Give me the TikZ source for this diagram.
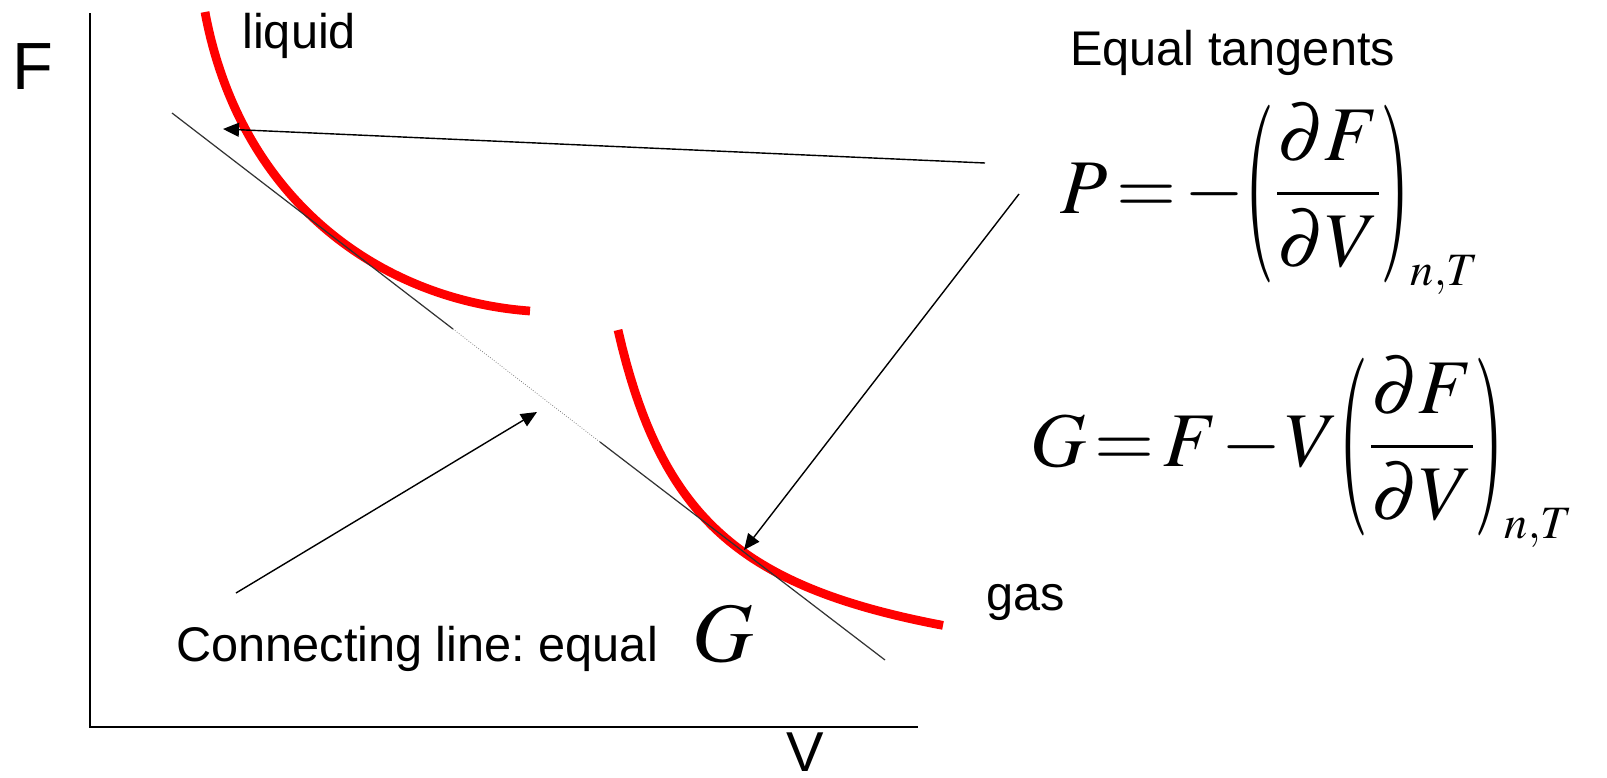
\documentclass[tikz,border=0pt]{standalone}
\usepackage{amsmath}
\usepackage{mathptmx}
\usepackage{graphicx}
\usepackage[no-math]{fontspec}
\setmainfont{Liberation Sans}
\usetikzlibrary{arrows.meta}
\frenchspacing
\newcommand{\tallopen}{\mathopen{\vcenter{\hbox{\scalebox{1}[2.3]{$($}}}}}
\newcommand{\tallclose}{\mathclose{\vcenter{\hbox{\scalebox{1}[2.3]{$)$}}}}}

\begin{document}
\begin{tikzpicture}[x=0.02cm, y=-0.02cm,
  phase/.style={red, line width=5pt},
  pointer/.style={line width=0.8pt, -{Triangle[length=0.32cm, width=0.28cm]}},
  lbl/.style={font=\fontsize{27.7}{32}\selectfont, inner sep=0pt},
  eqn/.style={anchor=base west, inner sep=0pt, font=\fontsize{44}{46}\selectfont}]
  \useasboundingbox (0,0) rectangle (1607,778);
  \draw[line width=1.1pt] (90,13) -- (90,727) -- (918,727);
  \node[font=\fontsize{38}{42}\selectfont, anchor=base west, inner sep=0pt] (flab) at (12,89) {F};
  \node[font=\fontsize{32}{38}\selectfont, anchor=base, inner sep=0pt] (vlab) at (805,771) {V};
  \draw[phase] (205,12) .. controls (240,200) and (380,300) .. (530,311);
  \draw[phase, domain=618:943, samples=80] plot (\x, {702.8 - 317.61*(100/(\x-532.8))});
  \coordinate (t0) at (172,113); \coordinate (t1) at (453,329);
  \coordinate (t2) at (600,442); \coordinate (t3) at (885,660);
  \draw[line width=0.7pt, black!80] (t0) -- (t1) (t2) -- (t3);
  \draw[densely dotted, line width=0.4pt, black!60] (t1) -- (t2);
  \node[lbl, anchor=base west] (liq) at (242,48) {liquid};
  \node[lbl, anchor=base west] (gas) at (986,610) {gas};
  \node[lbl, anchor=base west] (tang) at (1070,65) {Equal tangents};
  \node[lbl, anchor=base west] (conn) at (176,661) {Connecting line: equal\hspace{0.7cm}{\fontsize{48}{50}\selectfont$G$}};
  \node[eqn] (peq) at (1060,213) {$\thickmuskip=2mu \medmuskip=1mu \thinmuskip=0mu
    \displaystyle P=-\tallopen\frac{\partial F}{\partial V}\tallclose_{\scriptscriptstyle n,T}$};
  \node[eqn] (geq) at (1030,466) {$\thickmuskip=2mu \medmuskip=1mu \thinmuskip=0mu
    \displaystyle G=F-V\tallopen\frac{\partial F}{\partial V}\tallclose_{\scriptscriptstyle n,T}$};
  \coordinate (p1) at (985,163); \coordinate (p1tip) at (223,129);
  \coordinate (p2) at (1019,194); \coordinate (p2tip) at (744,550);
  \coordinate (c1) at (236,593); \coordinate (c1tip) at (537,412);
  \draw[pointer] (p1) -- (p1tip);
  \draw[pointer] (p2) -- (p2tip);
  \draw[pointer] (c1) -- (c1tip);
\end{tikzpicture}
\end{document}
